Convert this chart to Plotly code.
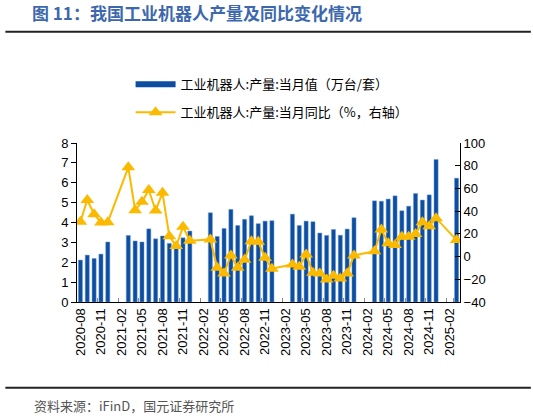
import pandas as pd
import plotly.graph_objects as go

# %%
# категории: 2020-08 ... 2025-03 (янв/фев не публикуются отдельно)
months = pd.date_range("2020-08-01", "2025-03-01", freq="MS").strftime("%Y-%m").tolist()

# 工业机器人:产量:当月值 (万台/套)
output_val = [2.11, 2.36, 2.19, 2.41, 3.02, None, None,
              3.35, 3.07, 3.02, 3.68, 3.18, 3.32, 2.95, 2.70, 3.23, 3.57, None, None,
              4.49, 3.30, 3.70, 4.66, 3.85, 4.16, 4.34, 3.94, 4.07, 4.09, None, None,
              4.42, 3.85, 4.07, 4.04, 3.47, 3.35, 3.65, 3.36, 3.67, 4.24, None, None,
              5.09, 5.07, 5.18, 5.34, 4.59, 4.82, 5.46, 5.13, 5.39, 7.17, None, None,
              6.23]

# 工业机器人:产量:当月同比 (%)
output_yoy = [30.7, 49.9, 37.3, 30.0, 30.3, None, None,
              78.6, 40.8, 48.2, 58.6, 40.6, 56.1, 18.0, 9.2, 26.2, 13.9, None, None,
              15.1, -9.9, -14.8, 1.0, -9.9, -2.8, 13.6, 13.0, -1.1, -10.7, None, None,
              -6.9, -9.0, 1.9, -14.3, -14.8, -20.1, -16.8, -19.2, -14.8, 1.0, None, None,
              4.6, 23.9, 11.8, 10.1, 17.4, 17.4, 19.8, 30.3, 26.8, 33.8, None, None,
              14.5]

tick_labels = months[::3]

name_val = "工业机器人:产量:当月值（万台/套）"
name_yoy = "工业机器人:产量:当月同比（%，右轴）"

BLUE = "#0D4EA0"
GOLD = "#FBBA00"
CJK = "Noto Sans CJK SC"
NUM = "Liberation Sans, Arial"

# %%
fig = go.Figure()

fig.add_trace(go.Bar(x=months, y=output_val, name=name_val, marker_color=BLUE,
                     marker_line=dict(color="#6E9BD6", width=0.5),
                     showlegend=False, yaxis="y"))
# запись легенды для столбцов — широкая полоса, как в оригинале
fig.add_trace(go.Scatter(x=[None], y=[None], name=name_val, mode="lines",
                         line=dict(color=BLUE, width=6), legendgroup="a"))
fig.add_trace(go.Scatter(x=months, y=output_yoy, name=name_yoy, mode="lines+markers",
                         connectgaps=True, yaxis="y2", legendgroup="b",
                         line=dict(color=GOLD, width=2),
                         marker=dict(symbol="triangle-up", size=12, color=GOLD)))

fig.update_layout(
    width=533, height=418,
    margin=dict(l=77, r=73, t=143, b=116, autoexpand=False),
    plot_bgcolor="white", paper_bgcolor="white",
    bargap=0.4,
    font=dict(family=NUM, size=13, color="black"),
    title=dict(text="<b>图 11：我国工业机器人产量及同比变化情况</b>",
               x=0.06, xanchor="left", y=0.966, yanchor="middle",
               font=dict(family=CJK, size=17, color="#3D68AE")),
    legend=dict(xref="container", yref="container", x=0.245, y=0.834,
                xanchor="left", yanchor="top",
                font=dict(family=CJK, size=13, color="black"),
                traceorder="grouped", tracegroupgap=8, itemwidth=40,
                bgcolor="rgba(0,0,0,0)"),
    xaxis=dict(type="category", categoryorder="array", categoryarray=months,
               range=[-0.5, len(months) - 0.5],
               tickvals=tick_labels, ticktext=tick_labels, tickangle=-90,
               tickson="boundaries", ticks="inside", ticklen=4, tickcolor="#888",
               showline=True, linecolor="black", linewidth=1, automargin=False,
               showgrid=False, tickfont=dict(family=NUM, size=13)),
    yaxis=dict(range=[0, 8], dtick=1, ticks="outside", ticklen=5, tickcolor="black",
               showline=True, linecolor="black", linewidth=1, showgrid=False,
               zeroline=False, automargin=False, tickfont=dict(family=NUM, size=13)),
    yaxis2=dict(range=[-40, 100], dtick=20, overlaying="y", side="right",
                ticks="inside", ticklen=5, tickcolor="black",
                showline=True, linecolor="black", linewidth=1, showgrid=False,
                zeroline=False, automargin=False, tickfont=dict(family=NUM, size=13)),
)

# линии под заголовком и над источником
fig.add_shape(type="line", xref="paper", yref="paper", x0=-0.187, x1=1.185,
              y0=1.70, y1=1.70, line=dict(color="#222", width=2))
fig.add_shape(type="line", xref="paper", yref="paper", x0=-0.187, x1=1.185,
              y0=-0.54, y1=-0.54, line=dict(color="#222", width=2))

fig.add_annotation(text="资料来源：iFinD，国元证券研究所", xref="paper", yref="paper",
                   x=-0.117, y=-0.648, xanchor="left", yanchor="middle", showarrow=False,
                   font=dict(family=CJK, size=13, color="#555"))

# убрать стандартный отступ body, чтобы фигура легла в окно 533x418
fig.write_html("out.html", config={"displayModeBar": False},
               post_script="document.body.style.margin='0';")
